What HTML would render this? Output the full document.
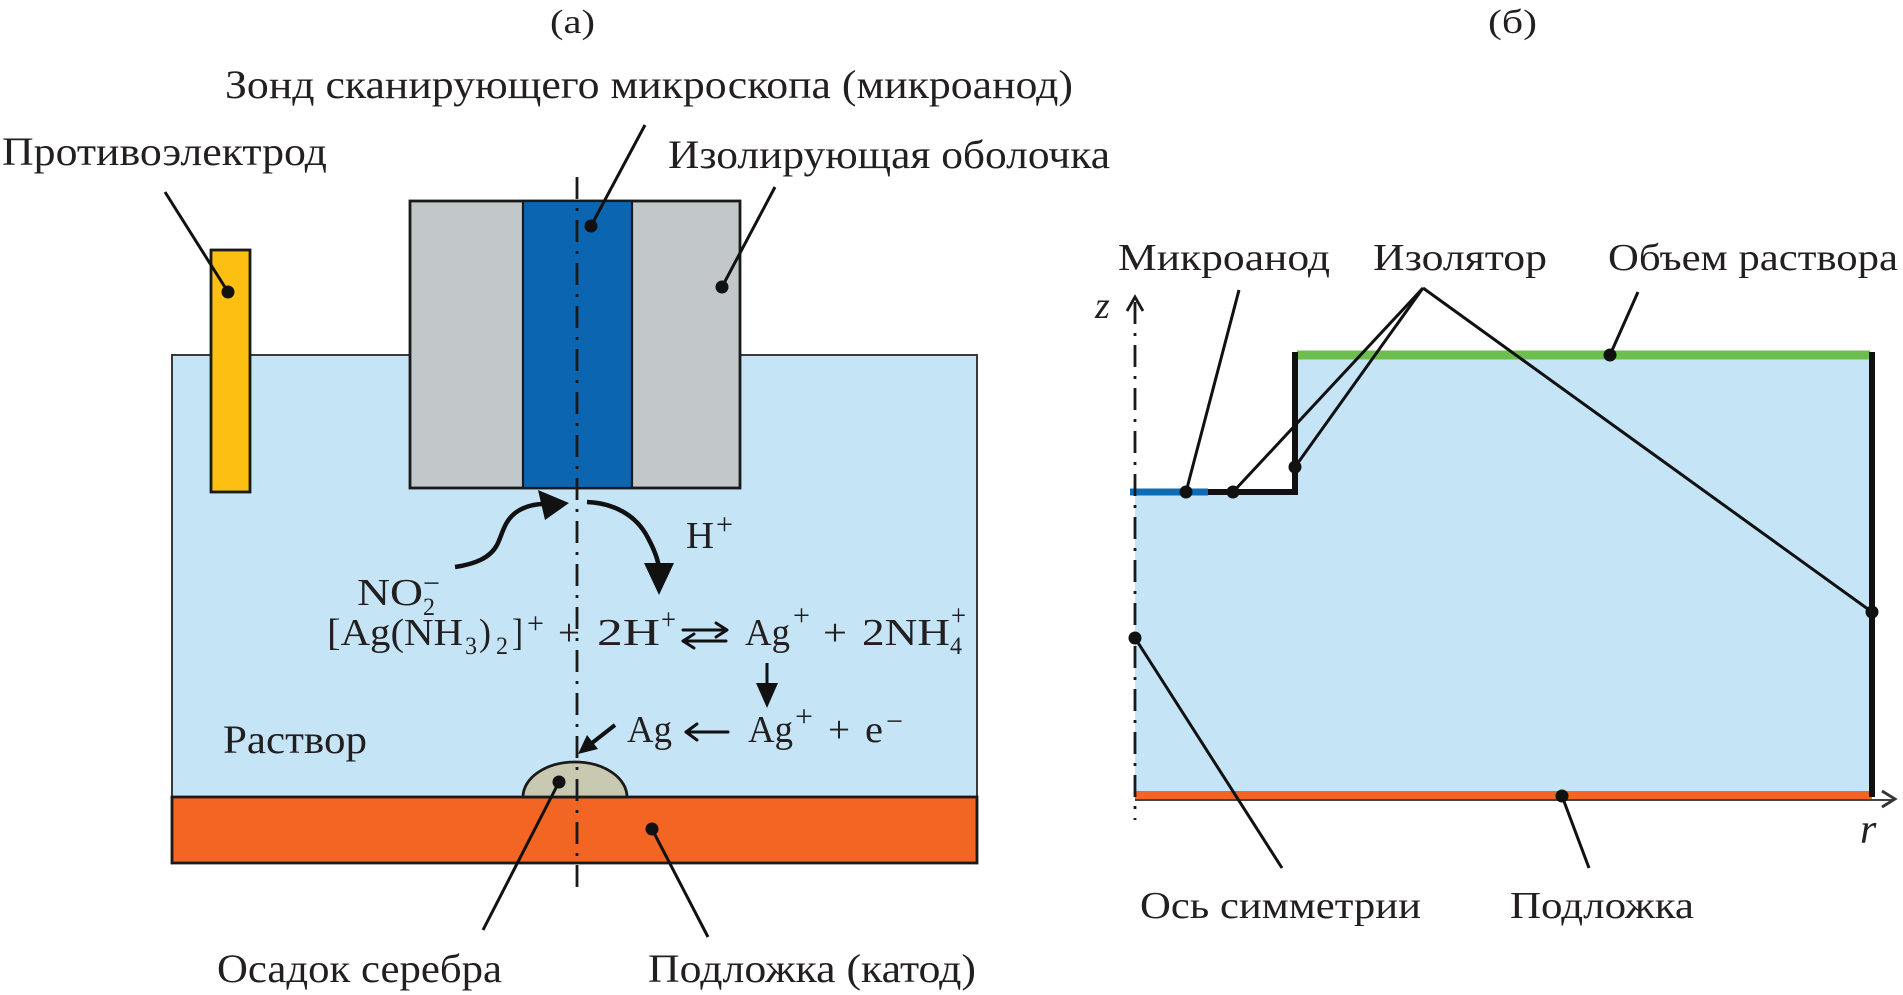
<!DOCTYPE html>
<html>
<head>
<meta charset="utf-8">
<style>
  html, body { margin:0; padding:0; background:#ffffff; }
  body { width:1903px; height:995px; overflow:hidden; position:relative; }
  svg { position:absolute; left:0; top:0; }
  text { font-family: "Liberation Serif", "Times New Roman", serif; fill:#231f20; }
</style>
</head>
<body>
<svg width="1903" height="995" viewBox="0 0 1903 995" xmlns="http://www.w3.org/2000/svg" font-family="'Liberation Serif', 'Times New Roman', serif">
  <!-- ================= PANEL (a) ================= -->
  <text x="550" y="33" font-size="34" textLength="45" lengthAdjust="spacingAndGlyphs">(a)</text>
  <text x="225" y="98" font-size="40" textLength="848" lengthAdjust="spacingAndGlyphs">Зонд сканирующего микроскопа (микроанод)</text>
  <text x="2" y="165" font-size="40" textLength="325" lengthAdjust="spacingAndGlyphs">Противоэлектрод</text>
  <text x="668" y="168" font-size="40" textLength="442" lengthAdjust="spacingAndGlyphs">Изолирующая оболочка</text>

  <!-- solution -->
  <rect x="172" y="355" width="805" height="442" fill="#c5e5f7" stroke="#3a3a3a" stroke-width="2"/>
  <!-- substrate -->
  <rect x="172" y="797" width="805" height="66" fill="#f26522" stroke="#1a1a1a" stroke-width="2.8"/>
  <!-- silver deposit -->
  <path d="M523,797 A52,35 0 0 1 627,797 Z" fill="#c9c9b1" stroke="#1a1a1a" stroke-width="2.8"/>
  <!-- counter electrode -->
  <rect x="211" y="250" width="39" height="242" fill="#fdbf12" stroke="#1a1a1a" stroke-width="2.8"/>
  <!-- probe -->
  <rect x="410" y="201" width="330" height="287" fill="#c2c7ca" stroke="#1a1a1a" stroke-width="2.8"/>
  <rect x="523" y="201" width="109" height="287" fill="#0b65b1" stroke="#1a1a1a" stroke-width="2.2"/>

  <!-- symmetry axis (a) -->
  <line x1="577" y1="177" x2="577" y2="893" stroke="#1a1a1a" stroke-width="2.8" stroke-dasharray="22,9,3,9"/>

  <!-- leaders (a) -->
  <g stroke="#111" stroke-width="3" fill="none">
    <line x1="165" y1="192" x2="228" y2="292"/>
    <line x1="645" y1="125" x2="591" y2="226"/>
    <line x1="775" y1="187" x2="722" y2="287"/>
    <line x1="559" y1="782" x2="483" y2="930"/>
    <line x1="652" y1="829" x2="708" y2="937"/>
  </g>
  <g fill="#111">
    <circle cx="228" cy="292" r="6.5"/>
    <circle cx="591" cy="226" r="6.5"/>
    <circle cx="722" cy="287" r="6.5"/>
    <circle cx="559" cy="782" r="6.5"/>
    <circle cx="652" cy="829" r="6.5"/>
  </g>

  <!-- curved arrows -->
  <path d="M455,567 C475,564 490,558 497,545 C503,533 504,520 518,511 C528,505 538,504 544,504" fill="none" stroke="#111" stroke-width="4.5"/>
  <polygon points="538,490 569,503 545,520" fill="#111"/>
  <path d="M587,502 C612,503 636,514 648,538 C655,551 658,560 659,568" fill="none" stroke="#111" stroke-width="4.5"/>
  <polygon points="644,563 674,563 659,595" fill="#111"/>

  <!-- H+ -->
  <text x="686" y="548" font-size="38" textLength="28" lengthAdjust="spacingAndGlyphs">H</text>
  <text x="716" y="534" font-size="30" textLength="17" lengthAdjust="spacingAndGlyphs">+</text>

  <!-- NO2- -->
  <text x="357" y="605" font-size="38" textLength="66" lengthAdjust="spacingAndGlyphs">NO</text>
  <text x="423" y="615" font-size="25" textLength="12" lengthAdjust="spacingAndGlyphs">2</text>
  <text x="423" y="593" font-size="30" textLength="17" lengthAdjust="spacingAndGlyphs">−</text>

  <!-- equation line 1 -->
  <text x="327" y="645" font-size="38" textLength="136" lengthAdjust="spacingAndGlyphs">[Ag(NH</text>
  <text x="465" y="654" font-size="25" textLength="12" lengthAdjust="spacingAndGlyphs">3</text>
  <text x="479" y="645" font-size="38" textLength="12" lengthAdjust="spacingAndGlyphs">)</text>
  <text x="496" y="654" font-size="25" textLength="12" lengthAdjust="spacingAndGlyphs">2</text>
  <text x="512" y="645" font-size="38" textLength="11" lengthAdjust="spacingAndGlyphs">]</text>
  <text x="527" y="633" font-size="30" textLength="17" lengthAdjust="spacingAndGlyphs">+</text>
  <text x="558" y="645" font-size="38" textLength="22" lengthAdjust="spacingAndGlyphs">+</text>
  <text x="597" y="645" font-size="38" textLength="63" lengthAdjust="spacingAndGlyphs">2H</text>
  <text x="661" y="629" font-size="30" textLength="15" lengthAdjust="spacingAndGlyphs">+</text>
  <!-- equilibrium arrows -->
  <g stroke="#111" stroke-width="3" fill="none" stroke-linecap="round" stroke-linejoin="round">
    <line x1="683" y1="630" x2="726" y2="630"/>
    <polyline points="716,623 727,630 716,637"/>
    <line x1="683" y1="641" x2="726" y2="641"/>
    <polyline points="694,634 683,641 694,648"/>
  </g>
  <text x="745" y="645" font-size="38" textLength="45" lengthAdjust="spacingAndGlyphs">Ag</text>
  <text x="793" y="625" font-size="30" textLength="17" lengthAdjust="spacingAndGlyphs">+</text>
  <text x="823" y="645" font-size="38" textLength="24" lengthAdjust="spacingAndGlyphs">+</text>
  <text x="862" y="645" font-size="38" textLength="88" lengthAdjust="spacingAndGlyphs">2NH</text>
  <text x="950" y="654" font-size="25" textLength="12" lengthAdjust="spacingAndGlyphs">4</text>
  <text x="951" y="625" font-size="30" textLength="15" lengthAdjust="spacingAndGlyphs">+</text>

  <!-- down arrow -->
  <line x1="767" y1="663" x2="767" y2="688" stroke="#111" stroke-width="3"/>
  <polygon points="756,683 778,683 767,708" fill="#111"/>

  <!-- equation line 2 -->
  <text x="627" y="742" font-size="38" textLength="45" lengthAdjust="spacingAndGlyphs">Ag</text>
  <g stroke="#111" stroke-width="3" fill="none" stroke-linecap="round" stroke-linejoin="round">
    <line x1="686" y1="732" x2="728" y2="732"/>
    <polyline points="697,724 686,732 697,740"/>
  </g>
  <text x="748" y="742" font-size="38" textLength="45" lengthAdjust="spacingAndGlyphs">Ag</text>
  <text x="795" y="726" font-size="30" textLength="18" lengthAdjust="spacingAndGlyphs">+</text>
  <text x="828" y="742" font-size="38" textLength="22" lengthAdjust="spacingAndGlyphs">+</text>
  <text x="865" y="742" font-size="38" textLength="18" lengthAdjust="spacingAndGlyphs">e</text>
  <text x="886" y="731" font-size="30" textLength="17" lengthAdjust="spacingAndGlyphs">−</text>

  <!-- diagonal arrow to deposit -->
  <line x1="615" y1="725" x2="592" y2="743" stroke="#111" stroke-width="4"/>
  <polygon points="598,749 587,735 578,754" fill="#111"/>

  <text x="223" y="753" font-size="40" textLength="144" lengthAdjust="spacingAndGlyphs">Раствор</text>
  <text x="217" y="982" font-size="40" textLength="285" lengthAdjust="spacingAndGlyphs">Осадок серебра</text>
  <text x="648" y="982" font-size="40" textLength="328" lengthAdjust="spacingAndGlyphs">Подложка (катод)</text>

  <!-- ================= PANEL (б) ================= -->
  <text x="1488" y="33" font-size="34" textLength="49" lengthAdjust="spacingAndGlyphs">(б)</text>
  <text x="1118" y="270" font-size="38" textLength="212" lengthAdjust="spacingAndGlyphs">Микроанод</text>
  <text x="1373" y="270" font-size="38" textLength="174" lengthAdjust="spacingAndGlyphs">Изолятор</text>
  <text x="1608" y="270" font-size="38" textLength="290" lengthAdjust="spacingAndGlyphs">Объем раствора</text>

  <!-- domain fill -->
  <polygon points="1135,492 1295,492 1295,355 1872,355 1872,795 1135,795" fill="#c5e5f7"/>
  <!-- green top -->
  <line x1="1297" y1="355" x2="1870" y2="355" stroke="#6cbe4e" stroke-width="9"/>
  <!-- orange bottom -->
  <line x1="1135" y1="795" x2="1872" y2="795" stroke="#f26522" stroke-width="8"/>
  <!-- r axis -->
  <line x1="1135" y1="800" x2="1894" y2="800" stroke="#444" stroke-width="2"/>
  <polyline points="1882,791 1895,799 1882,807" fill="none" stroke="#333" stroke-width="2.8"/>
  <!-- right wall -->
  <line x1="1872" y1="352" x2="1872" y2="797" stroke="#111" stroke-width="6"/>
  <!-- step insulator -->
  <polyline points="1207,492 1295,492 1295,352" fill="none" stroke="#111" stroke-width="6"/>
  <!-- microanode -->
  <line x1="1130" y1="492" x2="1208" y2="492" stroke="#0e6cb6" stroke-width="7"/>
  <!-- z axis -->
  <line x1="1135" y1="302" x2="1135" y2="820" stroke="#1a1a1a" stroke-width="2.8" stroke-dasharray="22,9,3,9"/>
  <polyline points="1127,311 1135,297 1143,311" fill="none" stroke="#1a1a1a" stroke-width="2.8"/>
  <text x="1095" y="318" font-size="38" font-style="italic">z</text>
  <text x="1860" y="843" font-size="42" font-style="italic">r</text>

  <!-- leaders (б) -->
  <g stroke="#111" stroke-width="3" fill="none">
    <line x1="1239" y1="290" x2="1186" y2="492"/>
    <line x1="1423" y1="288" x2="1233" y2="492"/>
    <line x1="1423" y1="288" x2="1295" y2="467"/>
    <line x1="1423" y1="288" x2="1872" y2="612"/>
    <line x1="1638" y1="292" x2="1610" y2="355"/>
    <line x1="1135" y1="638" x2="1282" y2="868"/>
    <line x1="1562" y1="796" x2="1589" y2="868"/>
  </g>
  <g fill="#111">
    <circle cx="1186" cy="492" r="6.5"/>
    <circle cx="1233" cy="492" r="6.5"/>
    <circle cx="1295" cy="467" r="6.5"/>
    <circle cx="1872" cy="612" r="6.5"/>
    <circle cx="1610" cy="355" r="6.5"/>
    <circle cx="1135" cy="638" r="6.5"/>
    <circle cx="1562" cy="796" r="6.5"/>
  </g>

  <text x="1140" y="918" font-size="38" textLength="281" lengthAdjust="spacingAndGlyphs">Ось симметрии</text>
  <text x="1510" y="918" font-size="38" textLength="184" lengthAdjust="spacingAndGlyphs">Подложка</text>
</svg>
</body>
</html>
